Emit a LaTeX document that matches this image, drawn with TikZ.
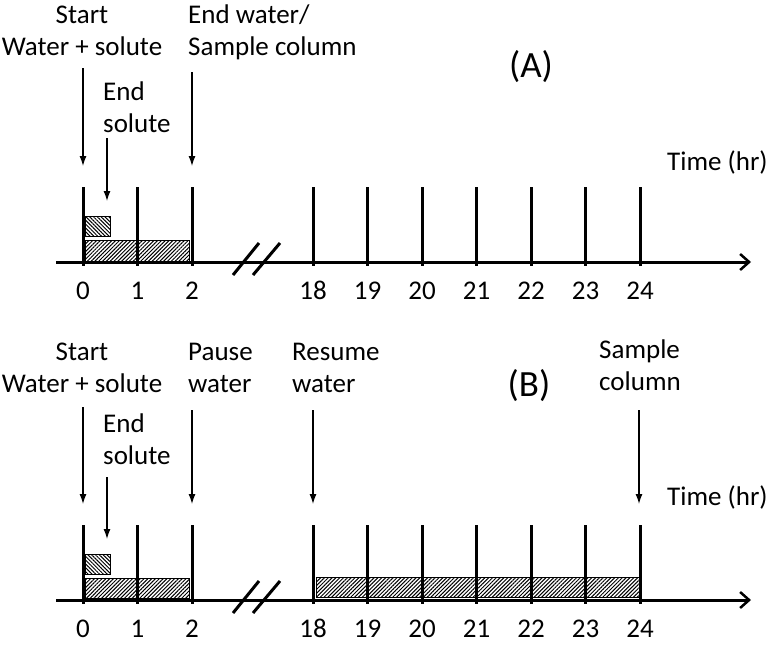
\documentclass[tikz,border=0pt]{standalone}
\usepackage{fontspec}
\setmainfont{Carlito}
\usetikzlibrary{arrows.meta,patterns.meta}

\begin{document}
\begin{tikzpicture}[x=1pt,y=-1pt,
    txt/.style={font=\fontsize{27}{32}\selectfont,inner sep=0pt},
    ttl/.style={font=\fontsize{37}{42}\selectfont,inner sep=0pt},
    axisln/.style={line width=3pt,-{Straight Barb[length=9pt,width=16pt,line width=2.5pt]}},
    tickln/.style={line width=3pt},
    evt/.style={line width=1.3pt,-{Latex[length=10pt,width=7pt]}},
    solute/.style={draw,line width=1pt,pattern={Lines[angle=-45,distance=2.7pt,line width=1pt]}},
    water/.style={draw,line width=1pt,pattern={Lines[angle=45,distance=2.7pt,line width=1pt]}}]

  \useasboundingbox (0,0) rectangle (768,654);

  % (A): water stopped at 2 hr
  \node[txt,align=center,anchor=base] (startA) at (82,55) {Start\\Water + solute};
  \node[txt,align=left,anchor=base west] (soluteA) at (103,132) {End\\solute};
  \node[txt,align=left,anchor=base west] (endA) at (188,55) {End water/\\Sample column};
  \node[ttl] (panelA) at (531,67) {(A)};
  \node[txt,anchor=west] (timeA) at (667,162) {Time (hr)};

  \coordinate (st1A) at (83,68);   \coordinate (st2A) at (83,166);
  \coordinate (so1A) at (107,138); \coordinate (so2A) at (107,201);
  \coordinate (en1A) at (192,72);  \coordinate (en2A) at (192,166);
  \draw[evt] (st1A) -- (st2A);
  \draw[evt] (so1A) -- (so2A);
  \draw[evt] (en1A) -- (en2A);

  \draw[solute] (85,216) rectangle (110,236);
  \draw[water] (85,240) rectangle (189,261);

  \coordinate (oA) at (56,262); \coordinate (xA) at (751,262);
  \draw[axisln] (oA) -- (xA);
  \foreach \h/\x in {0/83,1/137.5,2/192,18/313,19/367.5,20/422,21/476.5,22/531,23/585.5,24/640} {
    \draw[tickln] (\x,187) -- (\x,266);
    \node[txt,anchor=base] (a\h) at (\x,299) {\h};
  }
  \draw[tickln] (233,275) -- (259,243);
  \draw[tickln] (253,275) -- (280,243);

  % (B): water paused from 2 to 18 hr
  \node[txt,align=center,anchor=base] (startB) at (82,392) {Start\\Water + solute};
  \node[txt,align=left,anchor=base west] (soluteB) at (103,464) {End\\solute};
  \node[txt,align=left,anchor=base west] (pauseB) at (188,392) {Pause\\water};
  \node[txt,align=left,anchor=base west] (resumeB) at (292,392) {Resume\\water};
  \node[txt,align=left,anchor=base west] (sampleB) at (599,390) {Sample\\column};
  \node[ttl] (panelB) at (529,386) {(B)};
  \node[txt,anchor=west] (timeB) at (667,497) {Time (hr)};

  \coordinate (st1B) at (83,407);  \coordinate (st2B) at (83,504);
  \coordinate (so1B) at (107,477); \coordinate (so2B) at (107,539);
  \coordinate (pa1B) at (192,410); \coordinate (pa2B) at (192,504);
  \coordinate (re1B) at (313,410); \coordinate (re2B) at (313,504);
  \coordinate (sa1B) at (639,410); \coordinate (sa2B) at (639,504);
  \draw[evt] (st1B) -- (st2B);
  \draw[evt] (so1B) -- (so2B);
  \draw[evt] (pa1B) -- (pa2B);
  \draw[evt] (re1B) -- (re2B);
  \draw[evt] (sa1B) -- (sa2B);

  \draw[solute] (85,554) rectangle (110,574);
  \draw[water] (85,578) rectangle (189,598);
  \draw[water] (316,577) rectangle (639,597);

  \coordinate (oB) at (56,600); \coordinate (xB) at (751,600);
  \draw[axisln] (oB) -- (xB);
  \foreach \h/\x in {0/83,1/137.5,2/192,18/313,19/367.5,20/422,21/476.5,22/531,23/585.5,24/640} {
    \draw[tickln] (\x,525) -- (\x,604);
    \node[txt,anchor=base] (b\h) at (\x,637) {\h};
  }
  \draw[tickln] (233,613) -- (259,581);
  \draw[tickln] (253,613) -- (280,581);

\end{tikzpicture}
\end{document}
